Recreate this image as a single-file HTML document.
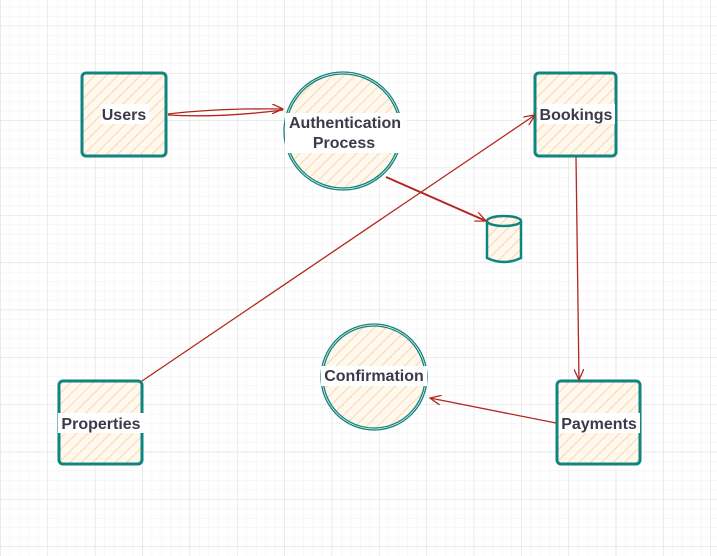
<!DOCTYPE html>
<html><head><style>
body{margin:0;width:717px;height:556px;overflow:hidden;background:#fff}
svg{display:block}
text{font-family:"Liberation Sans",sans-serif;font-size:16px;font-weight:600;fill:#3a3a4a;text-anchor:middle}
</style></head><body>
<svg width="717" height="556" xmlns="http://www.w3.org/2000/svg">
<defs>
<pattern id="minor" width="9.47" height="9.47" patternUnits="userSpaceOnUse" x="0.2" y="25.6">
<path d="M0 0H9.47M0 0V9.47" stroke="#f0f0f0" stroke-width="1" fill="none"/></pattern>
<pattern id="major" width="47.35" height="47.35" patternUnits="userSpaceOnUse" x="0.2" y="25.6">
<path d="M0 0H47.35M0 0V47.35" stroke="#dcdcdc" stroke-width="1" fill="none"/></pattern>
<pattern id="hatch" width="8" height="8" patternUnits="userSpaceOnUse" patternTransform="rotate(45)">
<rect width="8" height="8" fill="#fff8ee"/><line x1="0" y1="0" x2="0" y2="8" stroke="#fbd9b3" stroke-width="2.2"/></pattern>
<marker id="ar" markerWidth="12" markerHeight="10" refX="11" refY="5" orient="auto" markerUnits="userSpaceOnUse">
<path d="M0 0L11 5L0 10" fill="none" stroke="#b3261e" stroke-width="1.3"/></marker>
</defs>
<rect width="717" height="556" fill="url(#minor)"/>
<rect width="717" height="556" fill="url(#major)"/>
<g stroke="#0f8580" stroke-width="3" fill="url(#hatch)">
<rect x="82" y="73" width="84" height="83" rx="4"/>
<rect x="535" y="73" width="81" height="83" rx="4"/>
<rect x="59" y="381" width="83" height="83" rx="4"/>
<rect x="557" y="381" width="83" height="83" rx="4"/>
</g>
<g stroke="#0f8580" stroke-width="1.3" fill="url(#hatch)">
<circle cx="343" cy="131" r="59"/>
<circle cx="343" cy="131" r="57" fill="none"/>
<circle cx="374" cy="377" r="53"/>
<circle cx="374" cy="377" r="51" fill="none"/>
</g>
<g stroke="#0f8580" stroke-width="2.5" fill="url(#hatch)">
<path d="M487 221V258Q504 266 521 258V221"/>
<ellipse cx="504" cy="221" rx="17" ry="5"/>
</g>
<g stroke="#b3261e" stroke-width="1.3" fill="none">
<path d="M168 114Q220 108 283 109" marker-end="url(#ar)"/>
<path d="M168 115Q220 118 283 110"/>
<path d="M386 177L486 221" marker-end="url(#ar)" stroke-width="2"/>
<path d="M142 381L535 115" marker-end="url(#ar)"/>
<path d="M576 157L579 380" marker-end="url(#ar)"/>
<path d="M556 423L430 398" marker-end="url(#ar)"/>
</g>
<g fill="#fff">
<rect x="101" y="104" width="48" height="20"/>
<rect x="285" y="113" width="121" height="40"/>
<rect x="538" y="104" width="77" height="20"/>
<rect x="58" y="413" width="86" height="20"/>
<rect x="559" y="413" width="81" height="20"/>
<rect x="321" y="366" width="106" height="20"/>
</g>
<text x="124" y="120">Users</text>
<text x="345" y="128">Authentication</text>
<text x="344" y="148">Process</text>
<text x="576" y="120">Bookings</text>
<text x="101" y="429">Properties</text>
<text x="599" y="429">Payments</text>
<text x="374" y="381">Confirmation</text>
</svg>
</body></html>
